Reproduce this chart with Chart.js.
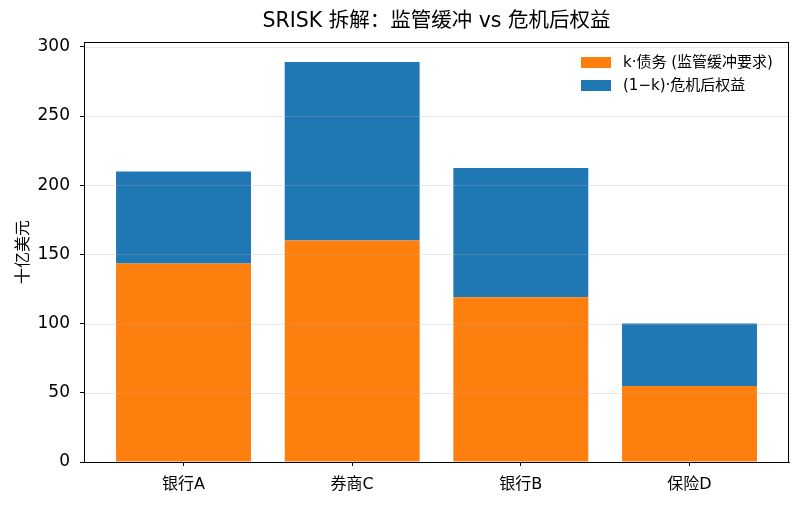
<!DOCTYPE html>
<html>
<head>
<meta charset="utf-8">
<script src="https://cdn.jsdelivr.net/npm/chart.js@4/dist/chart.umd.min.js"></script>
<style>
  html, body { margin: 0; padding: 0; background: #fff; }
  canvas { display: block; }
</style>
</head>
<body>
<canvas id="chart" width="802" height="506"></canvas>
<script>
const categories = ["银行A", "券商C", "银行B", "保险D"];
const debtBuffer = [143.5, 160, 119, 55];       // k·债务
const postCrisisEquity = [66.5, 129, 93.5, 45]; // (1-k)·危机后权益
const yTicks = [0, 50, 100, 150, 200, 250, 300];
const chartTitle = "SRISK 拆解：监管缓冲 vs 危机后权益";

const FONT = "'DejaVu Sans', 'Noto Sans CJK SC', sans-serif";

function points(values) {
  return values.map((v, i) => ({ x: i, y: v }));
}

// grid on top of bars, black frame on all four sides, title over the plot area
const overlay = {
  id: "overlay",
  afterDatasetsDraw(chart) {
    const a = chart.chartArea, ctx = chart.ctx, y = chart.scales.y;
    ctx.save();
    ctx.strokeStyle = "rgba(176,176,176,0.3)";
    ctx.lineWidth = 1;
    yTicks.forEach(v => {
      const py = Math.round(y.getPixelForValue(v)) + 0.5;
      ctx.beginPath();
      ctx.moveTo(a.left, py);
      ctx.lineTo(a.right, py);
      ctx.stroke();
    });
    ctx.restore();
  },
  afterDraw(chart) {
    const a = chart.chartArea, ctx = chart.ctx;
    ctx.save();
    ctx.strokeStyle = "#000";
    ctx.lineWidth = 1;
    ctx.strokeRect(Math.round(a.left) + 0.5, Math.round(a.top) + 0.5,
      Math.round(a.right - a.left) - 1, Math.round(a.bottom - a.top));
    ctx.fillStyle = "#000";
    ctx.font = "20.5px " + FONT;
    ctx.textAlign = "center";
    ctx.textBaseline = "middle";
    ctx.fillText(chartTitle, (a.left + a.right) / 2, 22);
    ctx.restore();
  }
};

const innerLegend = {
  id: "innerLegend",
  afterDraw(chart) {
    const ctx = chart.ctx;
    const x = chart.chartArea.right - 208;
    let y = chart.chartArea.top + 15;
    ctx.save();
    ctx.font = "15px " + FONT;
    ctx.textBaseline = "middle";
    chart.data.datasets.forEach(ds => {
      ctx.fillStyle = ds.backgroundColor;
      ctx.fillRect(x, y, 30, 11);
      ctx.fillStyle = "#000";
      ctx.fillText(ds.label, x + 42, y + 6);
      y += 23;
    });
    ctx.restore();
  }
};

new Chart(document.getElementById("chart").getContext("2d"), {
  type: "bar",
  data: {
    datasets: [
      { label: "k·债务 (监管缓冲要求)", data: points(debtBuffer), backgroundColor: "#ff7f0e" },
      { label: "(1−k)·危机后权益", data: points(postCrisisEquity), backgroundColor: "#1f77b4" }
    ]
  },
  options: {
    responsive: false,
    devicePixelRatio: 1,
    animation: false,
    layout: { padding: { left: 0, right: 13, top: 42, bottom: 0 } },
    datasets: { bar: { barPercentage: 0.8, categoryPercentage: 1.0, borderWidth: 0, grouped: false } },
    plugins: {
      legend: { display: false },
      tooltip: { enabled: false },
      title: { display: false }
    },
    scales: {
      x: {
        type: "linear",
        offset: false,
        min: -0.59,
        max: 3.59,
        afterBuildTicks: s => { s.ticks = categories.map((c, i) => ({ value: i })); },
        afterFit: s => { s.height = 44; },
        ticks: {
          color: "#000",
          font: { family: FONT, size: 16 },
          padding: 9,
          callback: v => categories[v]
        },
        grid: { offset: false, drawOnChartArea: false, tickColor: "#000", tickLength: 4 },
        border: { color: "#000" }
      },
      y: {
        stacked: true,
        min: 0,
        max: 303.5,
        afterBuildTicks: s => { s.ticks = yTicks.map(v => ({ value: v })); },
        afterFit: s => { s.width = 84; },
        ticks: { color: "#000", font: { family: FONT, size: 17 }, padding: 10 },
        grid: { drawOnChartArea: false, tickColor: "#000", tickLength: 4 },
        border: { color: "#000" },
        title: {
          display: true,
          text: "十亿美元",
          color: "#000",
          font: { family: FONT, size: 16 },
          padding: { top: 14, bottom: 0 }
        }
      }
    }
  },
  plugins: [overlay, innerLegend]
});
</script>
</body>
</html>
